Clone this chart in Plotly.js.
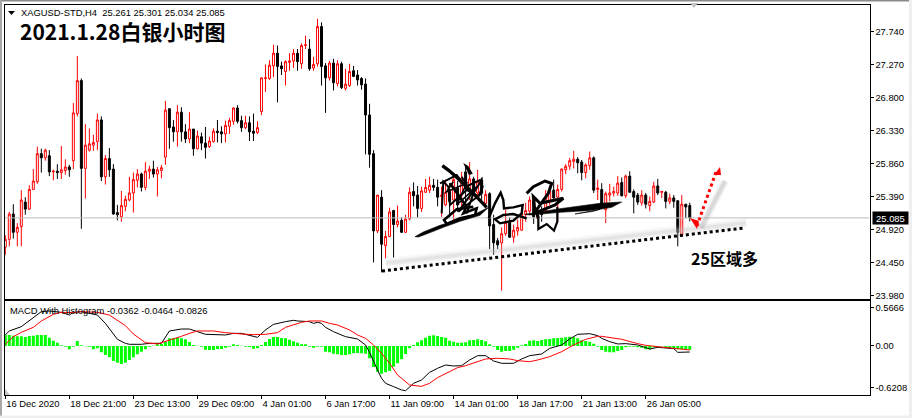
<!DOCTYPE html>
<html><head><meta charset="utf-8">
<script src="https://cdn.plot.ly/plotly-3.0.1.min.js"></script>
<style>html,body{margin:0;padding:0;background:#fff}#c{width:912px;height:418px}</style></head>
<body><div id="c"></div>
<script>
const openP=[24.67,24.78,25.14,24.88,24.96,25.31,25.21,25.49,25.60,26.00,25.94,25.97,25.74,25.75,25.73,25.76,25.81,25.90,26.57,27.04,25.79,26.05,26.12,26.17,26.48,25.67,25.93,25.78,25.16,25.10,25.25,25.34,25.44,25.62,25.71,25.52,25.75,25.78,25.71,25.76,25.95,26.64,26.38,26.31,26.59,26.31,26.21,26.35,26.07,26.24,26.15,26.10,26.17,26.32,26.31,26.28,26.39,26.46,26.65,26.47,26.37,26.44,26.32,26.30,26.60,27.07,27.07,27.25,27.43,27.25,27.17,27.30,27.32,27.43,27.28,27.54,27.49,27.22,27.28,27.81,27.25,27.08,27.29,27.00,27.28,26.93,26.97,27.18,27.12,27.07,26.99,26.55,26.00,24.90,25.38,24.69,24.82,25.19,24.99,25.05,24.88,25.07,25.46,25.41,25.22,25.45,25.48,25.55,25.52,25.39,25.27,25.46,25.34,25.51,25.41,25.74,25.48,25.64,25.44,25.62,25.29,25.43,24.99,24.76,24.73,24.86,25.02,24.81,24.90,24.91,25.13,25.18,25.33,25.08,25.20,25.19,25.33,25.48,25.38,25.49,25.77,25.82,25.89,25.92,25.88,25.73,25.83,25.94,25.49,25.49,25.20,25.41,25.44,25.44,25.59,25.40,25.68,25.46,25.41,25.30,25.41,25.26,25.31,25.54,25.45,25.45,25.32,25.37,25.33,24.83,25.28,25.261];
const highP=[24.84,25.17,25.28,25.01,25.48,25.38,25.55,25.78,26.10,26.07,26.07,26.05,25.77,25.85,26.11,25.92,25.84,26.72,27.39,27.07,26.42,26.36,26.27,26.57,26.53,25.98,26.08,25.85,25.27,25.47,25.40,25.67,25.73,25.78,25.73,25.88,25.83,25.90,25.81,25.84,26.75,26.64,26.48,26.69,26.66,26.42,26.59,26.35,26.33,26.30,26.38,26.24,26.36,26.48,26.39,26.47,26.51,26.66,26.69,26.54,26.54,26.53,26.57,26.46,27.08,27.27,27.33,27.55,27.54,27.31,27.33,27.43,27.49,27.49,27.57,27.68,27.63,27.38,27.92,27.87,27.29,27.32,27.35,27.33,27.31,27.21,27.28,27.25,27.19,27.09,27.07,26.71,26.05,25.41,25.48,24.90,25.23,25.20,25.26,25.09,25.13,25.52,25.59,25.54,25.53,25.64,25.67,25.64,25.63,25.53,25.63,25.58,25.70,25.61,25.74,25.84,25.88,25.67,25.77,25.66,25.48,25.45,25.13,24.80,24.95,25.20,25.09,24.99,25.06,25.20,25.30,25.39,25.39,25.23,25.25,25.48,25.53,25.63,25.56,25.79,25.85,25.94,26.04,25.95,25.91,25.86,26.03,25.96,25.63,25.58,25.46,25.57,25.53,25.68,25.66,25.70,25.75,25.49,25.44,25.48,25.44,25.39,25.60,25.64,25.47,25.47,25.43,25.41,25.33,25.41,25.28,25.301];
const lowP=[24.56,24.68,24.79,24.68,24.68,25.13,25.20,25.48,25.57,25.73,25.90,25.68,25.62,25.64,25.64,25.70,25.67,25.78,26.53,24.93,25.36,26.03,26.04,26.05,25.61,25.56,25.67,25.13,25.05,25.03,25.18,25.32,25.16,25.52,25.46,25.48,25.64,25.66,25.39,25.65,25.84,26.07,26.17,26.10,26.17,26.15,26.15,25.97,26.06,26.05,25.93,26.08,26.16,26.16,26.15,26.16,26.28,26.41,26.43,26.31,26.35,26.18,26.18,26.28,26.55,26.88,27.05,27.09,26.73,27.12,26.97,27.18,27.22,27.18,27.21,27.49,27.18,27.18,27.24,26.97,26.58,27.04,26.90,26.96,26.92,26.90,26.95,27.09,26.97,26.91,25.99,25.80,24.45,24.87,24.31,24.51,24.81,24.52,24.95,24.87,24.87,25.05,25.25,25.09,25.17,25.44,25.44,25.47,25.25,25.10,25.25,25.09,25.01,25.17,25.20,25.27,25.34,25.41,25.39,25.34,25.27,24.64,24.56,24.64,24.05,24.83,24.80,24.73,24.83,24.90,25.03,25.15,25.00,25.06,25.03,25.15,25.27,25.34,25.03,25.46,25.71,25.77,25.79,25.72,25.62,25.65,25.77,25.44,25.34,25.27,25.01,25.32,25.39,25.40,25.39,25.37,25.44,25.15,25.27,25.26,25.22,25.18,25.30,25.41,25.37,25.22,25.28,25.23,24.68,24.81,25.08,25.034];
const closeP=[24.78,25.14,24.88,24.95,25.34,25.21,25.49,25.61,26.00,25.94,26.05,25.74,25.75,25.73,25.77,25.81,25.77,26.58,27.04,25.79,26.12,26.14,26.16,26.48,25.67,25.93,25.77,25.14,25.13,25.26,25.35,25.44,25.63,25.71,25.52,25.75,25.78,25.71,25.77,25.80,26.62,26.37,26.31,26.59,26.31,26.21,26.35,26.07,26.25,26.15,26.09,26.18,26.32,26.30,26.28,26.40,26.47,26.65,26.46,26.37,26.44,26.31,26.29,26.37,27.08,27.08,27.26,27.43,27.24,27.21,27.31,27.32,27.43,27.31,27.54,27.55,27.21,27.27,27.81,27.24,27.08,27.29,27.01,27.28,26.94,26.99,27.17,27.10,27.05,26.98,26.55,25.99,24.90,25.41,24.71,24.82,25.17,24.99,25.04,24.88,25.07,25.45,25.40,25.22,25.47,25.52,25.55,25.52,25.38,25.41,25.45,25.32,25.63,25.27,25.65,25.51,25.64,25.46,25.60,25.44,25.42,24.97,24.73,24.70,24.86,25.02,24.81,24.91,24.95,25.15,25.19,25.34,25.10,25.19,25.13,25.39,25.47,25.37,25.49,25.78,25.82,25.90,25.92,25.87,25.73,25.84,25.94,25.48,25.51,25.29,25.43,25.44,25.46,25.58,25.40,25.68,25.45,25.38,25.31,25.41,25.28,25.32,25.54,25.44,25.46,25.32,25.37,25.32,24.88,25.28,25.24,25.085];

const histogram=[.163,.163,.153,.143,.143,.133,.148,.153,.163,.163,.163,.123,.079,.049,.010,-.010,-.049,-.010,.074,.010,-.005,-.010,-.049,-.035,-.094,-.133,-.168,-.222,-.247,-.266,-.247,-.207,-.168,-.123,-.084,-.049,-.010,.005,.025,.030,.064,.113,.113,.123,.113,.099,.059,.015,.005,-.010,-.054,-.059,-.059,-.044,-.044,-.025,-.010,.025,.015,.005,-.010,-.015,-.039,-.035,.015,.059,.104,.133,.133,.118,.113,.094,.069,.049,.025,.025,-.010,-.025,-.010,-.010,-.084,-.094,-.113,-.123,-.133,-.133,-.123,-.108,-.104,-.108,-.113,-.182,-.311,-.380,-.409,-.389,-.370,-.306,-.256,-.197,-.118,-.035,.015,.054,.084,.123,.153,.158,.148,.133,.123,.079,.064,.049,.049,.054,.084,.089,.099,.089,.069,.025,-.010,-.059,-.084,-.074,-.074,-.054,-.025,.010,.030,.079,.084,.074,.089,.099,.104,.113,.118,.123,.128,.138,.128,.113,.084,.074,.064,.035,-.010,-.059,-.084,-.094,-.094,-.074,-.059,-.020,-.010,-.010,-.020,-.025,-.049,-.049,-.020,-.010,-.005,-.020,-.025,-.039,-.049,-.049,-.049,-.054];

const blackIdx=[0,1,4,6,9,11,14,16,17,19,21,23,25,27,28,30,31,34,36,39,40,41,44,46,48,50,55,57,59,61,63,65,67,70,72,73,75,76,77,78,79,80,82,85,88,90,91,92,93,94,95,97,99,100,101,102,104,106,108,110,112,114,116,118,120,122,124,127,129,131,134,136,139,141,143,146,148,149,151,153,155,158,160,161,163,165,167,168,171];
const blackVal=[.163,.222,.286,.370,.508,.518,.498,.458,.498,.508,.483,.458,.335,.173,.099,.039,.025,.025,.039,.039,.138,.222,.251,.251,.212,.173,.163,.187,.187,.163,.128,.237,.320,.360,.380,.370,.370,.360,.335,.350,.335,.276,.212,.138,.104,.015,-.094,-.232,-.355,-.478,-.552,-.601,-.651,-.661,-.601,-.552,-.503,-.389,-.330,-.281,-.296,-.291,-.207,-.143,-.143,-.222,-.256,-.256,-.192,-.143,-.118,-.035,.015,.104,.173,.182,.153,.113,.064,.030,.035,.015,-.025,-.044,-.020,-.025,-.039,-.094,-.089];
const redIdx=[0,2,4,7,9,12,14,17,19,23,26,28,30,32,35,38,40,44,46,48,52,55,59,62,65,68,70,73,74,76,79,81,83,86,88,90,92,94,96,98,100,101,104,106,108,110,113,115,118,120,123,126,128,131,133,136,139,142,145,148,149,152,154,158,160,163,166,169,171];
const redVal=[.025,.138,.202,.276,.370,.468,.498,.493,.508,.498,.458,.385,.301,.177,.049,.030,.064,.143,.187,.222,.222,.197,.177,.168,.173,.197,.276,.340,.350,.370,.370,.335,.311,.237,.163,.113,.015,-.108,-.256,-.429,-.537,-.577,-.597,-.552,-.468,-.409,-.320,-.291,-.232,-.192,-.182,-.192,-.217,-.232,-.207,-.158,-.084,.015,.099,.143,.143,.123,.099,.035,.010,-.010,-.025,-.044,-.059];

const priceTicks=[27.74,27.27,26.80,26.33,25.86,25.39,24.92,24.45,23.98];
const priceLabels=priceTicks.map(v=>v.toFixed(3));
const macdTicks=[0.5666,0,-0.6208];
const macdLabels=['0.5666','0.00','-0.6208'];
const timeIdx=[0,16,32,48,64,80,96,112,128,144,160];
const timeLabels=['16 Dec 2020','18 Dec 21:00','23 Dec 13:00','29 Dec 09:00','4 Jan 01:00','6 Jan 17:00','11 Jan 09:00','14 Jan 01:00','18 Jan 17:00','21 Jan 13:00','26 Jan 05:00'];
const lastPrice=25.085;

const W=912,H=418;
const fx=x=>(x/W).toFixed(5), fy=y=>(1-y/H).toFixed(5);
const pathOf=(pts,close)=>pts.map((p,i)=>(i?'L':'M')+fx(p[0])+','+fy(p[1])).join(' ')+(close?' Z':'');
const z4=pts=>pts.map(p=>[300+p[0]/3,150+p[1]/3]);
const shape=(pts,o)=>({type:'path',xref:'paper',yref:'paper',path:pathOf(pts,o.close),line:{color:o.color||'#000',width:o.width===undefined?1:o.width,dash:o.dash||'solid'},fillcolor:o.fill||'rgba(0,0,0,0)'});
const rect=(x0,y0,x1,y1,c)=>({type:'rect',xref:'paper',yref:'paper',x0:x0/W,x1:x1/W,y0:1-y0/H,y1:1-y1/H,line:{width:0},fillcolor:c});

const shapes=[
 rect(0,0,912,1.5,'#8a8a8a'),rect(0,0,2,416,'#a8a8a8'),rect(0,415.5,912,418,'#efefef'),rect(909,0,912,418,'#efefef'),
 shape([[5,389],[10,395],[5,395]],{close:true,color:'#c4c4c4',fill:'#c4c4c4',width:0}),
 shape([[690,3],[698,3],[694,8]],{close:true,color:'#c4c4c4',fill:'#c4c4c4',width:0}),
 shape([[8,11],[15,11],[11.5,15]],{close:true,fill:'#000',width:0}),
 // soft shadows
 shape([[386,263],[746,223]],{color:'rgba(200,200,200,0.12)',width:10}),
 shape([[386,263],[746,223]],{color:'rgba(200,200,200,0.2)',width:6}),
 shape([[386,263],[746,223]],{color:'rgba(190,190,190,0.2)',width:3}),
 shape([[701,228],[725,181]],{color:'rgba(170,170,170,0.15)',width:8}),
 shape([[701,228],[725,181]],{color:'rgba(160,160,160,0.3)',width:4}),
 // support line
 shape([[382,271],[744,228]],{color:'#000',width:3,dash:'dot'}),
 // red arrow
 shape([[697,226],[716,172]],{color:'#ff0000',width:3,dash:'dot'}),
 shape([[720,167],[714,175],[721,175]],{close:true,color:'#ff0000',fill:'#ff0000',width:0}),
 shape([[690,218],[699,221],[697,229]],{close:true,color:'#ff0000',fill:'#ff0000',width:0}),
 // signature strokes
 shape(z4([[345,260],[370,246],[420,226],[480,208],[530,190],[566,172],[540,196],[480,214],[430,232],[385,250],[355,261]]),{close:true,fill:'#000',width:0.6}),
 shape(z4([[427,47],[445,60],[470,82],[520,130],[560,172]]),{width:3.4}),
 shape(z4([[495,45],[503,50],[515,70],[508,72]]),{close:true,fill:'#000',width:1.5}),
 shape(z4([[420,100],[445,88],[470,75],[497,110],[540,90],[548,110],[535,140],[500,120],[450,165],[445,110],[430,95],[425,190]]),{width:2}),
 shape(z4([[450,100],[500,170],[490,190],[530,175],[525,195],[480,205],[440,222],[432,210],[470,178],[520,170]]),{width:2.6}),
 shape(z4([[485,80],[515,130],[475,185],[545,130],[545,90],[520,130],[500,190]]),{width:2}),
 shape(z4([[460,95],[440,125],[500,100],[470,165],[530,110]]),{width:1.6}),
 shape(z4([[566,205],[585,160],[602,128],[610,150],[612,175],[640,172],[668,165],[665,190],[640,212],[600,220],[585,208],[610,195],[640,192],[680,205]]),{width:2.4}),
 shape(z4([[680,130],[700,110],[735,93],[755,100],[745,130],[715,172],[705,185],[700,140],[720,160],[790,145],[765,165],[710,187],[715,205]]),{width:3}),
 shape(z4([[715,205],[715,237],[740,222],[762,242],[772,215],[772,170]]),{width:2.2}),
 shape(z4([[675,193],[780,176],[900,160],[965,156],[935,172],[900,178],[860,182],[780,187],[690,195]]),{close:true,fill:'#000',width:0.6}),
 shape(z4([[825,192],[900,178],[880,184]]),{close:true,fill:'#000',width:0.6})
];

const textFont={family:'"Liberation Sans",Arial,sans-serif',size:9.4,color:'#000'};
const note=(x,y,text,font)=>({xref:'paper',yref:'paper',x:x/W,y:1-y/H,xanchor:'left',yanchor:'middle',showarrow:false,text,font,align:'left',borderpad:0});

const annotations=[
 note(19.5,12.5,'XAGUSD-STD,H4&nbsp;&nbsp;25.261 25.301 25.034 25.085',textFont),
 note(19,31,'2021.1.28白银小时图',{family:'"Noto Sans CJK SC",sans-serif',size:21,color:'#000',weight:700}),
 note(8.5,310,'MACD With Histogram -0.0362 -0.0464 -0.0826',textFont),
 note(690,258,'25区域多',{family:'"Noto Sans CJK SC",sans-serif',size:16,color:'#000',weight:700}),
 {xref:'paper',yref:'y',x:872/W,y:lastPrice,xanchor:'left',yanchor:'middle',showarrow:false,text:'&nbsp;'+lastPrice.toFixed(3)+'&nbsp;',font:{family:textFont.family,size:9.4,color:'#fff'},bgcolor:'#000',borderpad:0.5}
];

const idx=openP.map((_,i)=>i);
const traces=[
 {type:'bar',x:idx,y:histogram,xaxis:'x2',yaxis:'y2',marker:{color:'#00ff00',line:{width:0}},hoverinfo:'skip',width:0.75},
 {type:'scatter',mode:'lines',x:blackIdx,y:blackVal,xaxis:'x2',yaxis:'y2',line:{color:'#000',width:1},hoverinfo:'skip'},
 {type:'scatter',mode:'lines',x:redIdx,y:redVal,xaxis:'x2',yaxis:'y2',line:{color:'#ff0000',width:1},hoverinfo:'skip'},
 {type:'scatter',mode:'lines',x:[-0.2,215.9],y:[lastPrice,lastPrice],xaxis:'x',yaxis:'y',line:{color:'#bdbdbd',width:1},hoverinfo:'skip'},
 {type:'candlestick',x:idx,open:openP,high:highP,low:lowP,close:closeP,xaxis:'x',yaxis:'y',whiskerwidth:0,hoverinfo:'skip',
  increasing:{line:{color:'#ff0000',width:1},fillcolor:'#ffffff'},decreasing:{line:{color:'#000000',width:1},fillcolor:'#000000'}}
];
const axisLine={showline:true,mirror:true,linecolor:'#000',linewidth:1,showgrid:false,zeroline:false};
const layout={
 width:W,height:H,margin:{l:0,r:0,t:0,b:0},paper_bgcolor:'#fff',plot_bgcolor:'#fff',showlegend:false,barmode:'overlay',
 font:textFont,
 xaxis:Object.assign({},axisLine,{domain:[4.5/W,869.5/W],range:[-0.2,215.9],anchor:'y',showticklabels:false,ticks:'',rangeslider:{visible:false},fixedrange:true}),
 yaxis:Object.assign({},axisLine,{domain:[1-298.5/H,1-4.5/H],range:[23.937,28.124],anchor:'x',side:'right',tickmode:'array',tickvals:priceTicks,ticktext:priceLabels,ticks:'outside',ticklen:3,tickcolor:'#000',tickfont:textFont}),
 xaxis2:Object.assign({},axisLine,{domain:[4.5/W,869.5/W],range:[-0.2,215.9],anchor:'y2',tickmode:'array',tickvals:timeIdx,ticktext:timeLabels,tickangle:0,ticks:'outside',ticklen:3,tickcolor:'#000',tickfont:textFont,ticklabelposition:'outside right'}),
 yaxis2:Object.assign({},axisLine,{domain:[1-395/H,1-300.7/H],range:[-0.725,0.67],anchor:'x2',side:'right',tickmode:'array',tickvals:macdTicks,ticktext:macdLabels,ticks:'outside',ticklen:3,tickcolor:'#000',tickfont:textFont}),
 shapes,annotations
};
Plotly.newPlot('c',traces,layout,{staticPlot:true,displayModeBar:false});
</script></body></html>
